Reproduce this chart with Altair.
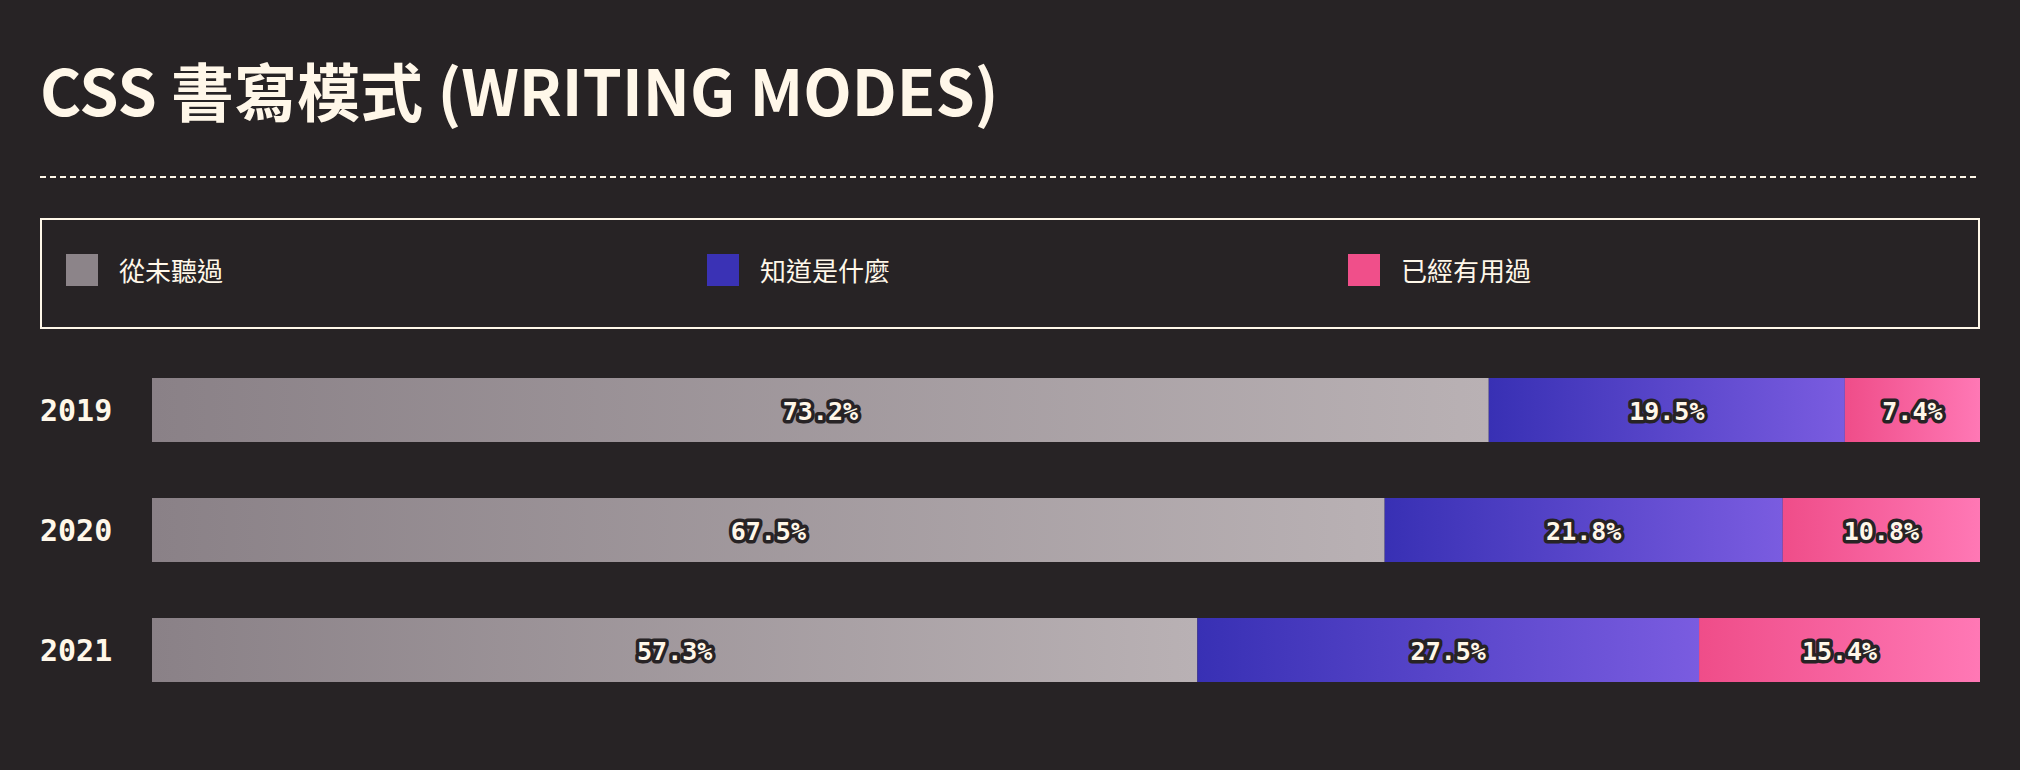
import altair as alt
import pandas as pd

# ---- data ----
years = ["2019", "2020", "2021"]
categories = ["從未聽過", "知道是什麼", "已經有用過"]
never_heard = [73.2, 67.5, 57.3]
know_about = [19.5, 21.8, 27.5]
used_it = [7.4, 10.8, 15.4]
title_text = "CSS 書寫模式 (WRITING MODES)"

# ---- styles ----
BG = "#272325"
CREAM = "#fff7e9"
swatch_colors = ["#8c8489", "#3a32b5", "#f04f8a"]
gradients = [
    ("#8a8187", "#b9b1b4"),
    ("#3830b4", "#7a5ce0"),
    ("#ef4d89", "#ff78b5"),
]

series = [never_heard, know_about, used_it]
rows = []
for ci, (cat, vals) in enumerate(zip(categories, series)):
    for y, v in zip(years, vals):
        rows.append({"year": y, "cat": cat, "order": ci, "value": v})
df = pd.DataFrame(rows)

xscale = alt.Scale(domain=[0, 1], range=[152, 1980], nice=False, zero=False)
yscale = alt.Scale(domain=years, range=[350, 710], paddingInner=0.4667, paddingOuter=0.2333)

base = alt.Chart(df).transform_stack(
    stack="value",
    groupby=["year"],
    as_=["start", "end"],
    offset="normalize",
    sort=[alt.SortField("order", order="ascending")],
)

bar_layers = []
for cat, (c0, c1) in zip(categories, gradients):
    grad = alt.LinearGradient(
        gradient="linear",
        stops=[alt.GradientStop(offset=0, color=c0), alt.GradientStop(offset=1, color=c1)],
        x1=0, x2=1, y1=0, y2=0,
    )
    bar_layers.append(
        base.transform_filter(alt.datum.cat == cat)
        .mark_bar(color=grad, stroke=None, cornerRadius=0)
        .encode(
            x=alt.X("start:Q", scale=xscale, axis=None),
            x2="end:Q",
            y=alt.Y("year:N", scale=yscale, axis=None),
        )
    )

lab_base = base.transform_calculate(
    mid="(datum.start + datum.end) / 2",
    label="format(datum.value, '.1f') + '%'",
)
lab_enc = dict(
    x=alt.X("mid:Q", scale=xscale, axis=None),
    y=alt.Y("year:N", scale=yscale, axis=None),
    text="label:N",
)
label_outline = lab_base.mark_text(
    font="DejaVu Sans Mono", fontWeight="bold", fontSize=25, dy=2,
    fill=BG, stroke=BG, strokeWidth=7, strokeJoin="round",
    align="center", baseline="middle",
).encode(**lab_enc)
label_fill = lab_base.mark_text(
    font="DejaVu Sans Mono", fontWeight="bold", fontSize=25, dy=2,
    fill=CREAM, align="center", baseline="middle",
).encode(**lab_enc)

year_df = pd.DataFrame({"year": years})
year_labels = alt.Chart(year_df).mark_text(
    font="DejaVu Sans Mono", fontWeight="bold", fontSize=30, dy=2,
    color=CREAM, align="left", baseline="middle",
).encode(
    x=alt.value(40),
    y=alt.Y("year:N", scale=yscale, axis=None),
    text="year:N",
)

# ---- legend ----
leg_df = pd.DataFrame({"cat": categories})
leg_x = alt.Scale(domain=categories, range=[82, 1364], padding=0)
leg_color = alt.Scale(domain=categories, range=swatch_colors)
leg_sw = alt.Chart(leg_df).mark_square(size=1024, opacity=1, filled=True, strokeWidth=0).encode(
    x=alt.X("cat:N", scale=leg_x, axis=None),
    y=alt.value(270),
    color=alt.Color("cat:N", scale=leg_color, legend=None),
)
leg_txt = alt.Chart(leg_df).mark_text(
    font="Noto Sans CJK TC", fontSize=26, color=CREAM,
    align="left", baseline="middle", dx=37,
).encode(
    x=alt.X("cat:N", scale=leg_x, axis=None),
    y=alt.value(273),
    text="cat:N",
)

one = pd.DataFrame({"t": [title_text]})
title = alt.Chart(one).mark_text(
    font="Noto Sans CJK TC", fontWeight="bold", fontSize=63,
    color=CREAM, align="left", baseline="alphabetic",
).encode(x=alt.value(40), y=alt.value(116), text="t:N")

rule = alt.Chart(one).mark_rule(
    color=CREAM, strokeWidth=2, strokeDash=[6, 4]
).encode(x=alt.value(40), x2=alt.value(1980), y=alt.value(177))

box = alt.Chart(one).mark_rect(
    fillOpacity=0, stroke=CREAM, strokeWidth=2
).encode(x=alt.value(41), x2=alt.value(1979), y=alt.value(219), y2=alt.value(328))

chart = alt.layer(
    title, rule, box, leg_sw, leg_txt, *bar_layers, label_outline, label_fill, year_labels
).resolve_scale(x="independent").properties(
    width=2020, height=770, autosize="none", padding=0, background=BG
).configure_view(stroke=None)

chart.save("out.html", embed_options={"renderer": "svg", "actions": False})
